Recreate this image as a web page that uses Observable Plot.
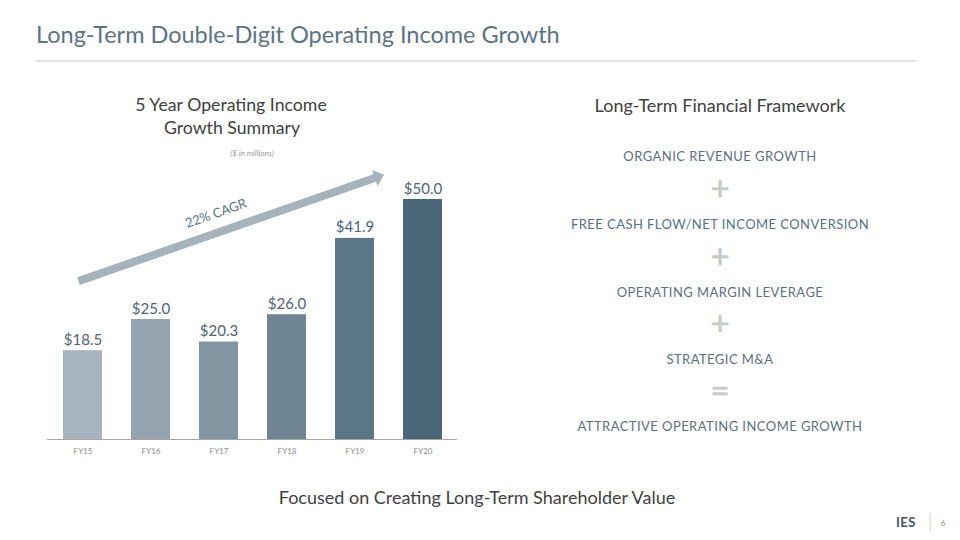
<!DOCTYPE html>
<html>
<head>
<meta charset="utf-8">
<script src="https://cdn.jsdelivr.net/npm/d3@7"></script>
<script src="https://cdn.jsdelivr.net/npm/@observablehq/plot@0.6"></script>
<style>
  html, body { margin: 0; padding: 0; background: #fff; }
  #page { position: relative; width: 960px; height: 540px; overflow: hidden; font-family: Lato, "Open Sans", sans-serif; }
  #deco { position: absolute; left: 0; top: 0; }
  #chart { position: absolute; left: 0; top: 150px; }
  g[aria-label="cagr"] text { letter-spacing: 2.5px; }
  g[aria-label="value-labels"] text { letter-spacing: 0.5px; }
</style>
</head>
<body>
<div id="page">
  <svg id="deco" width="960" height="540" font-family="Lato, 'Open Sans', sans-serif">
    <text x="36" y="43" font-size="23.5" fill="#5b7387">Long-Term Double-Digit Operating Income Growth</text>
    <line x1="36" x2="917" y1="61" y2="61" stroke="#e3e3e3" stroke-width="2"></line>
    <text x="231" y="111" font-size="17.7" fill="#3f3f3f" text-anchor="middle">5 Year Operating Income</text>
    <text x="232" y="134" font-size="17.7" fill="#3f3f3f" text-anchor="middle">Growth Summary</text>
    <text x="252" y="156" font-size="8" font-style="italic" fill="#9a9a9a" text-anchor="middle">($ in millions)</text>
    <text x="720" y="112" font-size="18" fill="#3f3f3f" text-anchor="middle">Long-Term Financial Framework</text>
    <g id="framework" font-size="13" fill="#5a7184" text-anchor="middle" letter-spacing="0.45"></g>
    <text x="477" y="504" font-size="18" fill="#3f3f3f" text-anchor="middle">Focused on Creating Long-Term Shareholder Value</text>
    <text x="906" y="527" font-size="13" font-weight="bold" fill="#3e566b" text-anchor="middle" letter-spacing="0.5">IES</text>
    <line x1="930" x2="930" y1="513" y2="531" stroke="#cfcfcf" stroke-width="1"></line>
    <text x="943" y="526" font-size="8" fill="#8a8a8a" text-anchor="middle">6</text>
  </svg>
  <div id="chart"></div>
</div>
<script>
// ---- data ----
const years = ["FY15", "FY16", "FY17", "FY18", "FY19", "FY20"];
const operatingIncome = [18.5, 25.0, 20.3, 26.0, 41.9, 50.0];
const barColors = ["#a7b4bd", "#93a3af", "#8296a2", "#6f8594", "#5b7689", "#4a6679"];
const cagrLabel = "22% CAGR";
const cagrArrowStart = [{year: "FY15", value: 33}];
const cagrLabelPos = [{year: "FY17", value: 47.3}];
const frameworkItems = ["ORGANIC REVENUE GROWTH", "FREE CASH FLOW/NET INCOME CONVERSION", "OPERATING MARGIN LEVERAGE", "STRATEGIC M&A", "ATTRACTIVE OPERATING INCOME GROWTH"];
const frameworkOps = ["+", "+", "+", "="];

const bars = years.map((y, i) => ({year: y, value: operatingIncome[i], color: barColors[i]}));

// ---- framework list ----
const fw = document.getElementById("framework");
const ns = "http://www.w3.org/2000/svg";
const itemBase = [161, 228.7, 296.5, 364, 430.7];
frameworkItems.forEach((t, i) => {
  const el = document.createElementNS(ns, "text");
  el.setAttribute("x", 720);
  el.setAttribute("y", itemBase[i]);
  el.textContent = t;
  fw.appendChild(el);
  if (i < frameworkOps.length) {
    const op = document.createElementNS(ns, "text");
    op.setAttribute("x", 720);
    op.setAttribute("y", (itemBase[i] + itemBase[i + 1]) / 2 + 5);
    op.setAttribute("font-size", 33);
    op.setAttribute("fill", "#c9c9c9");
    op.setAttribute("stroke", "#c9c9c9");
    op.setAttribute("stroke-width", 0.7);
    op.setAttribute("letter-spacing", 0);
    op.textContent = frameworkOps[i];
    fw.appendChild(op);
  }
});

// ---- arrow shape ----
const blockArrow = {
  draw(context, l) {
    const hw = 4, hl = 10, hh = 8.5;
    context.moveTo(-hw, 0);
    context.lineTo(-hw, -(l - hl));
    context.lineTo(-hh, -(l - hl));
    context.lineTo(0, -l);
    context.lineTo(hh, -(l - hl));
    context.lineTo(hw, -(l - hl));
    context.lineTo(hw, 0);
    context.closePath();
  }
};

const chart = Plot.plot({
  width: 480,
  height: 310,
  marginLeft: 47,
  marginRight: 23,
  marginTop: 25,
  marginBottom: 21,
  style: {fontFamily: "Lato, 'Open Sans', sans-serif", background: "transparent"},
  x: {type: "band", domain: years, paddingInner: 0.43, paddingOuter: 0.21, label: null, tickSize: 0, tickPadding: 9},
  y: {domain: [0, 55], axis: null},
  marks: [
    Plot.barY(bars, {x: "year", y: "value", fill: "color"}),
    Plot.ruleY([0], {stroke: "#a6a6a6", strokeWidth: 1}),
    Plot.axisX({tickSize: 0, tickPadding: 9, fontSize: 8, color: "#8a8a8a", label: null}),
    Plot.text(bars, {x: "year", y: "value", text: d => "$" + d.value.toFixed(1), lineAnchor: "bottom", dy: -6, fontSize: 15, fill: "#4e6479", ariaLabel: "value-labels"}),
    Plot.vector(cagrArrowStart, {x: "year", y: "value", dx: -4.5, anchor: "start", length: 323.7, rotate: 70.8, shape: blockArrow, fill: "#a5b3bc", stroke: "none"}),
    Plot.text(cagrLabelPos, {x: "year", y: "value", dx: -3, dy: 1, text: () => cagrLabel, rotate: -19.2, fontSize: 13, fill: "#5b7689", ariaLabel: "cagr"})
  ]
});
document.getElementById("chart").appendChild(chart);
</script>
</body>
</html>
